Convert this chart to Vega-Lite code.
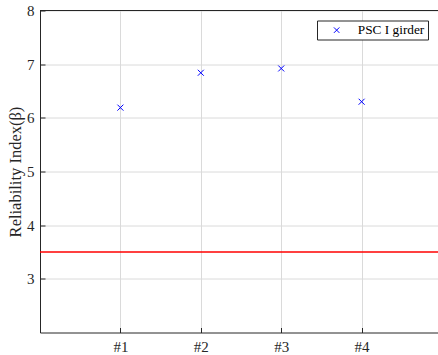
{
  "$schema": "https://vega.github.io/schema/vega-lite/v6.json",
  "width": 398,
  "height": 322,
  "autosize": {"type": "none"},
  "padding": {"left": 40, "top": 10.5, "right": 0, "bottom": 22.5},
  "background": "white",
  "config": {
    "view": {"stroke": null},
    "font": "Liberation Serif",
    "axis": {
      "labelFont": "Liberation Serif",
      "titleFont": "Liberation Serif",
      "labelColor": "#262626",
      "titleColor": "#262626",
      "domainColor": "#262626",
      "tickColor": "#262626",
      "gridColor": "#dadada",
      "gridWidth": 1
    }
  },
  "layer": [
    {
      "data": {"values": [
        {"girder": 1, "beta": 6.19, "series": "PSC I girder"},
        {"girder": 2, "beta": 6.84, "series": "PSC I girder"},
        {"girder": 3, "beta": 6.92, "series": "PSC I girder"},
        {"girder": 4, "beta": 6.30, "series": "PSC I girder"}
      ]},
      "mark": {"type": "point", "shape": "M-1,-1L1,1M-1,1L1,-1", "filled": false, "size": 36, "strokeWidth": 1, "opacity": 1},
      "encoding": {
        "x": {
          "field": "girder", "type": "quantitative",
          "scale": {"domain": [0, 4.95], "nice": false, "zero": false},
          "axis": {
            "values": [1, 2, 3, 4],
            "labelExpr": "'#' + datum.value",
            "title": null,
            "labelFont": "Liberation Serif",
            "labelFontSize": 15,
            "labelPadding": 12,
            "tickSize": -5,
            "grid": true,
            "domainWidth": 1
          }
        },
        "y": {
          "field": "beta", "type": "quantitative",
          "scale": {"domain": [2, 8], "nice": false, "zero": false},
          "axis": {
            "values": [3, 4, 5, 6, 7, 8],
            "format": "d",
            "title": "Reliability Index(β)",
            "titleFont": "Liberation Serif",
            "titleFontSize": 16.5,
            "titleFontWeight": "normal",
            "titlePadding": 3,
            "labelFont": "Liberation Serif",
            "labelFontSize": 15,
            "labelPadding": 11,
            "tickSize": -5,
            "grid": true
          }
        },
        "color": {
          "field": "series", "type": "nominal",
          "scale": {"range": ["#0000ff"]},
          "legend": {
            "title": null,
            "orient": "top-right",
            "offset": 10,
            "strokeColor": "#262626",
            "fillColor": "white",
            "padding": 3,
            "labelFont": "Liberation Serif",
            "labelFontSize": 13.3,
            "labelColor": "#000000",
            "symbolType": "M-1,-1L1,1M-1,1L1,-1",
            "symbolSize": 30,
            "symbolStrokeWidth": 1,
            "symbolOffset": 10,
            "labelOffset": 14.5
          }
        }
      }
    },
    {
      "data": {"values": [{"limit": 3.5}]},
      "mark": {"type": "rule", "color": "#ff0000", "strokeWidth": 1.5},
      "encoding": {"y": {"field": "limit", "type": "quantitative"}}
    },
    {
      "data": {"values": [{"top": 8}]},
      "mark": {"type": "rule", "color": "#262626", "strokeWidth": 1},
      "encoding": {"y": {"field": "top", "type": "quantitative"}}
    }
  ]
}
